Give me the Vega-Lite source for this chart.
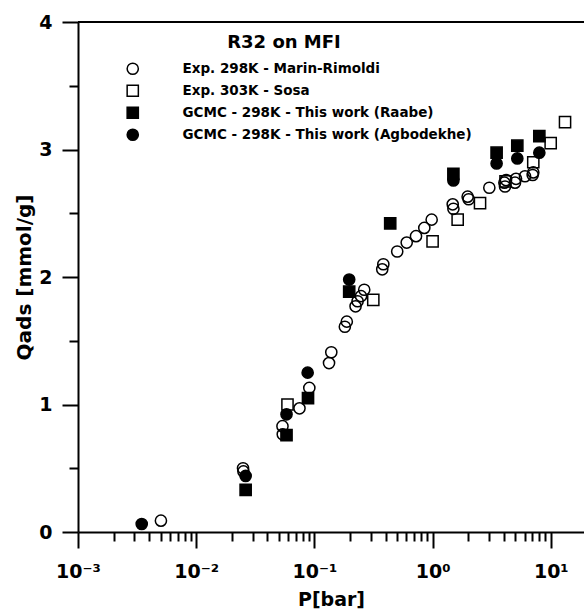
{
  "$schema": "https://vega.github.io/schema/vega-lite/v6.json",
  "width": 506,
  "height": 510,
  "autosize": {"type": "none"},
  "padding": {"left": 78, "top": 22, "right": 0, "bottom": 79},
  "background": "white",
  "title": {
    "text": "R32 on MFI",
    "anchor": "middle",
    "baseline": "middle",
    "offset": 0,
    "dx": -47,
    "dy": 48,
    "font": "DejaVu Sans",
    "fontSize": 18,
    "fontWeight": "bold",
    "color": "black"
  },
  "config": {
    "view": {"stroke": null},
    "font": "DejaVu Sans",
    "legend": {
      "labelFont": "DejaVu Sans",
      "labelFontSize": 13.5,
      "labelFontWeight": "bold",
      "labelColor": "black",
      "labelOffset": 43,
      "labelLimit": 400,
      "rowPadding": 4,
      "symbolSize": 125,
      "symbolStrokeWidth": 1.5,
      "symbolStrokeColor": "black"
    }
  },
  "data": {
    "values": [
      {"P": 0.00503, "Q": 0.089, "series": "Exp. 298K - Marin-Rimoldi"},
      {"P": 0.0249, "Q": 0.50, "series": "Exp. 298K - Marin-Rimoldi"},
      {"P": 0.0251, "Q": 0.475, "series": "Exp. 298K - Marin-Rimoldi"},
      {"P": 0.0537, "Q": 0.83, "series": "Exp. 298K - Marin-Rimoldi"},
      {"P": 0.0540, "Q": 0.766, "series": "Exp. 298K - Marin-Rimoldi"},
      {"P": 0.0748, "Q": 0.97, "series": "Exp. 298K - Marin-Rimoldi"},
      {"P": 0.0906, "Q": 1.13, "series": "Exp. 298K - Marin-Rimoldi"},
      {"P": 0.133, "Q": 1.325, "series": "Exp. 298K - Marin-Rimoldi"},
      {"P": 0.139, "Q": 1.41, "series": "Exp. 298K - Marin-Rimoldi"},
      {"P": 0.181, "Q": 1.61, "series": "Exp. 298K - Marin-Rimoldi"},
      {"P": 0.188, "Q": 1.65, "series": "Exp. 298K - Marin-Rimoldi"},
      {"P": 0.223, "Q": 1.77, "series": "Exp. 298K - Marin-Rimoldi"},
      {"P": 0.232, "Q": 1.81, "series": "Exp. 298K - Marin-Rimoldi"},
      {"P": 0.248, "Q": 1.85, "series": "Exp. 298K - Marin-Rimoldi"},
      {"P": 0.264, "Q": 1.90, "series": "Exp. 298K - Marin-Rimoldi"},
      {"P": 0.375, "Q": 2.06, "series": "Exp. 298K - Marin-Rimoldi"},
      {"P": 0.383, "Q": 2.10, "series": "Exp. 298K - Marin-Rimoldi"},
      {"P": 0.502, "Q": 2.20, "series": "Exp. 298K - Marin-Rimoldi"},
      {"P": 0.604, "Q": 2.27, "series": "Exp. 298K - Marin-Rimoldi"},
      {"P": 0.724, "Q": 2.32, "series": "Exp. 298K - Marin-Rimoldi"},
      {"P": 0.851, "Q": 2.385, "series": "Exp. 298K - Marin-Rimoldi"},
      {"P": 0.982, "Q": 2.45, "series": "Exp. 298K - Marin-Rimoldi"},
      {"P": 1.48, "Q": 2.57, "series": "Exp. 298K - Marin-Rimoldi"},
      {"P": 1.50, "Q": 2.535, "series": "Exp. 298K - Marin-Rimoldi"},
      {"P": 1.98, "Q": 2.63, "series": "Exp. 298K - Marin-Rimoldi"},
      {"P": 2.02, "Q": 2.61, "series": "Exp. 298K - Marin-Rimoldi"},
      {"P": 3.02, "Q": 2.70, "series": "Exp. 298K - Marin-Rimoldi"},
      {"P": 4.05, "Q": 2.74, "series": "Exp. 298K - Marin-Rimoldi"},
      {"P": 4.10, "Q": 2.71, "series": "Exp. 298K - Marin-Rimoldi"},
      {"P": 4.18, "Q": 2.76, "series": "Exp. 298K - Marin-Rimoldi"},
      {"P": 4.98, "Q": 2.74, "series": "Exp. 298K - Marin-Rimoldi"},
      {"P": 5.08, "Q": 2.77, "series": "Exp. 298K - Marin-Rimoldi"},
      {"P": 6.05, "Q": 2.79, "series": "Exp. 298K - Marin-Rimoldi"},
      {"P": 7.03, "Q": 2.80, "series": "Exp. 298K - Marin-Rimoldi"},
      {"P": 7.11, "Q": 2.82, "series": "Exp. 298K - Marin-Rimoldi"},
      {"P": 0.0592, "Q": 1.0, "series": "Exp. 303K - Sosa"},
      {"P": 0.315, "Q": 1.82, "series": "Exp. 303K - Sosa"},
      {"P": 1.0, "Q": 2.28, "series": "Exp. 303K - Sosa"},
      {"P": 1.63, "Q": 2.45, "series": "Exp. 303K - Sosa"},
      {"P": 2.52, "Q": 2.58, "series": "Exp. 303K - Sosa"},
      {"P": 4.14, "Q": 2.75, "series": "Exp. 303K - Sosa"},
      {"P": 7.11, "Q": 2.90, "series": "Exp. 303K - Sosa"},
      {"P": 9.98, "Q": 3.05, "series": "Exp. 303K - Sosa"},
      {"P": 13.2, "Q": 3.215, "series": "Exp. 303K - Sosa"},
      {"P": 0.0262, "Q": 0.33, "series": "GCMC - 298K - This work (Raabe)"},
      {"P": 0.0581, "Q": 0.76, "series": "GCMC - 298K - This work (Raabe)"},
      {"P": 0.0883, "Q": 1.05, "series": "GCMC - 298K - This work (Raabe)"},
      {"P": 0.197, "Q": 1.885, "series": "GCMC - 298K - This work (Raabe)"},
      {"P": 0.438, "Q": 2.42, "series": "GCMC - 298K - This work (Raabe)"},
      {"P": 1.50, "Q": 2.81, "series": "GCMC - 298K - This work (Raabe)"},
      {"P": 3.48, "Q": 2.975, "series": "GCMC - 298K - This work (Raabe)"},
      {"P": 5.21, "Q": 3.03, "series": "GCMC - 298K - This work (Raabe)"},
      {"P": 8.0, "Q": 3.105, "series": "GCMC - 298K - This work (Raabe)"},
      {"P": 0.00346, "Q": 0.063, "series": "GCMC - 298K - This work (Agbodekhe)"},
      {"P": 0.0262, "Q": 0.44, "series": "GCMC - 298K - This work (Agbodekhe)"},
      {"P": 0.0581, "Q": 0.923, "series": "GCMC - 298K - This work (Agbodekhe)"},
      {"P": 0.0877, "Q": 1.25, "series": "GCMC - 298K - This work (Agbodekhe)"},
      {"P": 0.197, "Q": 1.98, "series": "GCMC - 298K - This work (Agbodekhe)"},
      {"P": 1.50, "Q": 2.757, "series": "GCMC - 298K - This work (Agbodekhe)"},
      {"P": 3.48, "Q": 2.89, "series": "GCMC - 298K - This work (Agbodekhe)"},
      {"P": 5.21, "Q": 2.93, "series": "GCMC - 298K - This work (Agbodekhe)"},
      {"P": 8.0, "Q": 2.975, "series": "GCMC - 298K - This work (Agbodekhe)"}
    ]
  },
  "resolve": {"axis": {"x": "independent", "y": "independent"}},
  "layer": [
    {
      "mark": {"type": "point", "strokeWidth": 1.5, "opacity": 1, "size": 125},
      "encoding": {
        "x": {
          "field": "P",
          "type": "quantitative",
          "scale": {"type": "log", "domain": [0.001, 19.1], "nice": false},
          "axis": {
            "orient": "bottom",
            "title": "P[bar]",
            "titleFont": "DejaVu Sans",
            "titleFontSize": 19,
            "titleFontWeight": "bold",
            "titleColor": "black",
            "titlePadding": 9,
            "values": [0.001, 0.01, 0.1, 1, 10],
            "labelExpr": "datum.value == 0.001 ? '10⁻³' : datum.value == 0.01 ? '10⁻²' : datum.value == 0.1 ? '10⁻¹' : datum.value == 1 ? '10⁰' : '10¹'",
            "labelFont": "DejaVu Sans",
            "labelFontSize": 19,
            "labelFontWeight": "bold",
            "labelColor": "black",
            "labelOverlap": false,
            "labelFlush": false,
            "labelPadding": 14,
            "tickSize": 16,
            "tickWidth": 2,
            "tickColor": "black",
            "domainWidth": 2,
            "domainColor": "black",
            "grid": false
          }
        },
        "y": {
          "field": "Q",
          "type": "quantitative",
          "scale": {"domain": [0, 4], "nice": false},
          "axis": {
            "orient": "left",
            "title": "Qads [mmol/g]",
            "titleFont": "DejaVu Sans",
            "titleFontSize": 20,
            "titleFontWeight": "bold",
            "titleColor": "black",
            "titlePadding": 4,
            "values": [0, 1, 2, 3, 4],
            "format": "d",
            "labelFont": "DejaVu Sans",
            "labelFontSize": 19,
            "labelFontWeight": "bold",
            "labelColor": "black",
            "labelOverlap": false,
            "labelFlush": false,
            "labelPadding": 10,
            "tickSize": 16,
            "tickWidth": 2,
            "tickColor": "black",
            "domainWidth": 2,
            "domainColor": "black",
            "grid": false
          }
        },
        "shape": {
          "field": "series",
          "type": "nominal",
          "scale": {
            "domain": ["Exp. 298K - Marin-Rimoldi", "Exp. 303K - Sosa", "GCMC - 298K - This work (Raabe)", "GCMC - 298K - This work (Agbodekhe)"],
            "range": ["circle", "square", "square", "circle"]
          },
          "legend": {"title": null, "orient": "none", "legendX": 48, "legendY": 40}
        },
        "fill": {
          "field": "series",
          "type": "nominal",
          "scale": {
            "domain": ["Exp. 298K - Marin-Rimoldi", "Exp. 303K - Sosa", "GCMC - 298K - This work (Raabe)", "GCMC - 298K - This work (Agbodekhe)"],
            "range": ["transparent", "transparent", "black", "black"]
          },
          "legend": {"title": null, "orient": "none", "legendX": 48, "legendY": 40}
        },
        "stroke": {
          "field": "series",
          "type": "nominal",
          "scale": {
            "domain": ["Exp. 298K - Marin-Rimoldi", "Exp. 303K - Sosa", "GCMC - 298K - This work (Raabe)", "GCMC - 298K - This work (Agbodekhe)"],
            "range": ["black", "black", "black", "black"]
          },
          "legend": {"title": null, "orient": "none", "legendX": 48, "legendY": 40}
        }
      }
    },
    {
      "mark": {"type": "point", "opacity": 0},
      "encoding": {
        "x": {
          "field": "P",
          "type": "quantitative",
          "axis": {
            "orient": "bottom",
            "title": null,
            "values": [0.002, 0.003, 0.004, 0.005, 0.006, 0.007, 0.008, 0.009,
                       0.02, 0.03, 0.04, 0.05, 0.06, 0.07, 0.08, 0.09,
                       0.2, 0.3, 0.4, 0.5, 0.6, 0.7, 0.8, 0.9,
                       2, 3, 4, 5, 6, 7, 8, 9],
            "labels": false,
            "domain": false,
            "tickSize": 9,
            "tickWidth": 2,
            "tickColor": "black",
            "grid": false
          }
        },
        "y": {
          "field": "Q",
          "type": "quantitative",
          "axis": {
            "orient": "left",
            "title": null,
            "values": [0.5, 1.5, 2.5, 3.5],
            "labels": false,
            "domain": false,
            "tickSize": 9,
            "tickWidth": 2,
            "tickColor": "black",
            "grid": false
          }
        }
      }
    },
    {
      "mark": {"type": "rule", "strokeWidth": 2, "color": "black"},
      "encoding": {"y": {"datum": 4, "type": "quantitative", "axis": null}}
    }
  ]
}
